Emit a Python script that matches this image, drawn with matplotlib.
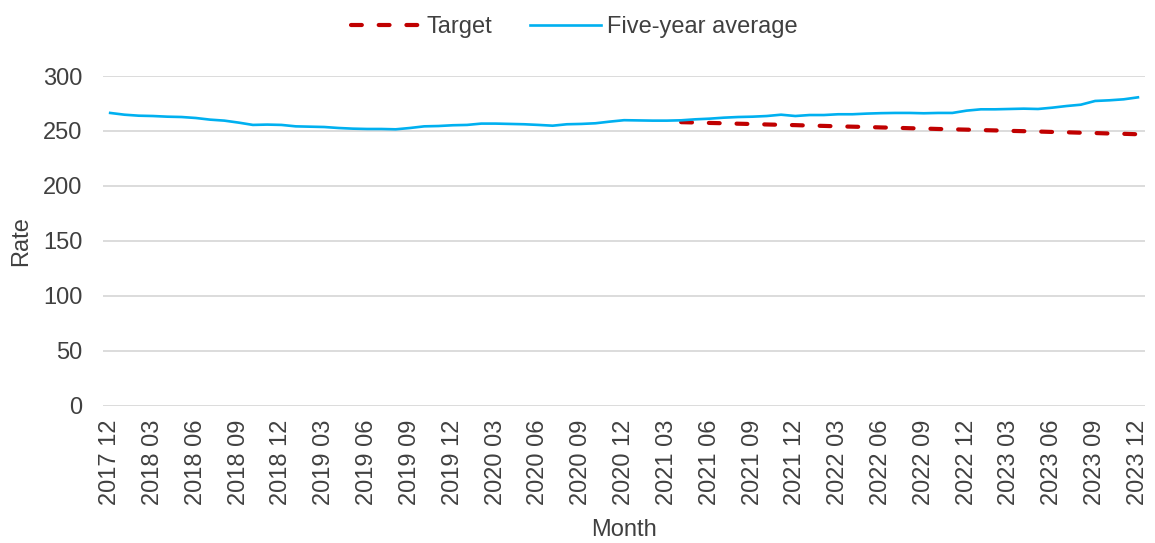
import matplotlib
matplotlib.use("Agg")
import matplotlib.pyplot as plt

# ---- data ----
months = [f"{y} {m:02d}" for y in range(2017, 2024) for m in range(1, 13)
          if (y, m) >= (2017, 12)]

five_year_avg = [
    266.4, 264.8, 263.9, 263.6, 263.0, 262.7, 261.8, 260.3, 259.4, 257.6,
    255.5, 255.8, 255.5, 254.2, 253.9, 253.6, 252.7, 252.1, 251.8, 251.8,
    251.5, 252.7, 254.2, 254.5, 255.2, 255.5, 256.7, 256.7, 256.4, 256.1,
    255.5, 254.8, 256.1, 256.4, 257.0, 258.5, 259.8, 259.6, 259.4, 259.4,
    259.7, 260.6, 261.2, 262.1, 262.7, 263.0, 263.6, 264.8, 263.6, 264.5,
    264.5, 265.2, 265.2, 265.8, 266.2, 266.4, 266.4, 266.1, 266.4, 266.4,
    268.5, 269.7, 269.7, 270.0, 270.3, 270.0, 271.2, 272.7, 273.9, 277.3,
    277.9, 278.8, 280.6,
]

target_start = "2021 04"
target = [
    258.0, 257.7, 257.3, 257.0, 256.6, 256.3, 255.9, 255.6, 255.3, 254.9,
    254.6, 254.2, 253.9, 253.6, 253.2, 252.9, 252.5, 252.2, 251.8, 251.5,
    251.2, 250.8, 250.5, 250.1, 249.8, 249.5, 249.1, 248.8, 248.4, 248.1,
    247.7, 247.4, 247.0,
]

tick_labels = [
    "2017 12", "2018 03", "2018 06", "2018 09", "2018 12", "2019 03",
    "2019 06", "2019 09", "2019 12", "2020 03", "2020 06", "2020 09",
    "2020 12", "2021 03", "2021 06", "2021 09", "2021 12", "2022 03",
    "2022 06", "2022 09", "2022 12", "2023 03", "2023 06", "2023 09",
    "2023 12",
]
y_ticks = [0, 50, 100, 150, 200, 250, 300]

# ---- style ----
plt.rcParams["font.family"] = ["Liberation Sans", "DejaVu Sans"]
TEXT = "#404040"
FS = 17

fig = plt.figure(figsize=(11.55, 5.43), dpi=100)
ax = fig.add_axes([0.0892, 0.2529, 0.9022, 0.6071])

x_all = list(range(len(months)))
t0 = months.index(target_start)
x_target = list(range(t0, t0 + len(target)))

ax.plot(x_target, target, color="#C00000", lw=3.0, dashes=(2.6, 4.05),
        dash_capstyle="round", label="Target", zorder=3)
ax.plot(x_all, five_year_avg, color="#00B0F0", lw=1.9, label="Five-year average",
        zorder=4, solid_joinstyle="round")

ax.set_xlim(-0.5, len(months) - 0.5)
ax.set_ylim(0, 300)
ax.set_yticks(y_ticks)
ax.set_yticklabels([str(v) for v in y_ticks])
ax.set_xticks([months.index(l) for l in tick_labels])
ax.set_xticklabels(tick_labels, rotation=90)

ax.grid(axis="y", color="#D9D9D9", lw=1.3)
ax.set_axisbelow(True)
for s in ax.spines.values():
    s.set_visible(False)

ax.tick_params(axis="x", length=0, pad=10, labelsize=FS, labelcolor=TEXT)
ax.tick_params(axis="y", length=0, pad=15, labelsize=FS, labelcolor=TEXT)

ax.set_ylabel("Rate", fontsize=FS, color=TEXT)
ax.yaxis.set_label_coords(-0.068, 0.5)
ax.set_xlabel("Month", fontsize=FS, color=TEXT)
ax.xaxis.set_label_coords(0.5, -0.345)

leg = fig.legend(loc="center", bbox_to_anchor=(0.497, 0.950), ncol=2, frameon=False,
                 fontsize=FS, handlelength=2.97, handletextpad=0.25,
                 columnspacing=1.6, labelcolor=TEXT)

fig.savefig("out.png", dpi=100)
